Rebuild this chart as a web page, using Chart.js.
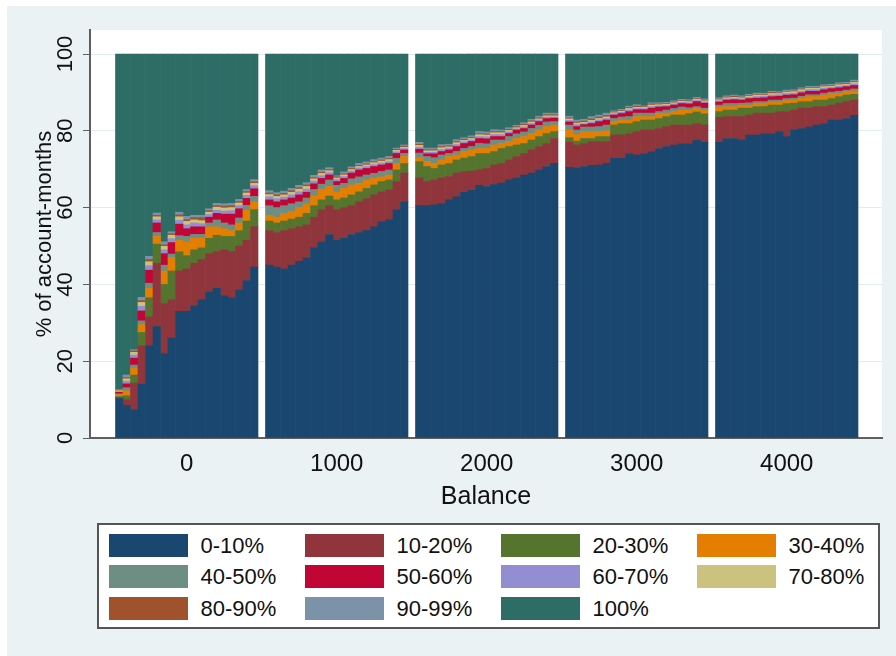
<!DOCTYPE html>
<html>
<head>
<meta charset="utf-8">
<script src="https://cdn.jsdelivr.net/npm/chart.js@4.4.0/dist/chart.umd.min.js"></script>
<style>
  html, body { margin: 0; padding: 0; background: #fff; }
  body { width: 896px; height: 656px; position: relative; overflow: hidden; font-family: "Liberation Sans", Arial, sans-serif; }
  #region { position: absolute; left: 7px; top: 6px; right: 0; bottom: 0; background: #eaf2f3; }
  #wrap { position: absolute; left: 0; top: 0; width: 896px; height: 656px; }
  #legend { position: absolute; left: 97px; top: 523px; width: 783px; height: 106px; box-sizing: border-box; border: 2px solid #555; background: #fff; }
  .item { position: absolute; height: 23px; }
  .swatch { position: absolute; left: 0; top: 0; width: 79px; height: 23px; }
  .label { position: absolute; left: 92px; top: 0; line-height: 23px; font-size: 22px; color: #111; white-space: nowrap; }
</style>
</head>
<body>
<div id="region"></div>
<div id="wrap"><canvas id="chart" width="896" height="656"></canvas></div>
<div id="legend"></div>
<script>
// Balance bins (bin centres, width 50); no bins at 500, 1500, 2500, 3500
const balance = [
  -450, -400, -350, -300, -250, -200, -150, -100, -50, 0, 50, 100, 150, 200, 250, 300, 350, 400, 450,
  550, 600, 650, 700, 750, 800, 850, 900, 950, 1000, 1050, 1100, 1150, 1200, 1250, 1300, 1350, 1400, 1450,
  1550, 1600, 1650, 1700, 1750, 1800, 1850, 1900, 1950, 2000, 2050, 2100, 2150, 2200, 2250, 2300, 2350, 2400, 2450,
  2550, 2600, 2650, 2700, 2750, 2800, 2850, 2900, 2950, 3000, 3050, 3100, 3150, 3200, 3250, 3300, 3350, 3400, 3450,
  3550, 3600, 3650, 3700, 3750, 3800, 3850, 3900, 3950, 4000, 4050, 4100, 4150, 4200, 4250, 4300, 4350, 4400, 4450
];

// % of account-months per bin, one array per share band
const share0to10 = [
  10.3, 8.5, 7.3, 14, 24, 29, 22, 26, 33, 33, 34.5, 36, 38, 39, 37, 36.5, 38.5, 41, 44.5,
  45, 44.5, 44, 45, 46, 47, 49.5, 51, 53, 51.5, 52, 53, 53.5, 54, 55, 56.3, 56.8, 59.4, 61.5,
  60.5, 60.5, 60.7, 61, 62, 62.8, 64, 64.5, 65.8, 65.5, 66, 66.4, 67.2, 67.7, 68.5, 69, 69.8, 70.7, 71.5,
  70.5, 70.3, 70.7, 71, 71.1, 71.5, 72.8, 72.8, 74, 73.7, 74.1, 74.6, 75.4, 75.9, 76.3, 76.7, 76.7, 77.5, 77,
  77, 78, 78, 77.6, 78.9, 78.9, 79.3, 79.3, 79.8, 78.5, 80.2, 80.6, 81, 81.5, 81.9, 82.8, 82.8, 83.2, 84
];
const share10to20 = [
  0.2, 1.5, 7, 10, 7.5, 16.5, 13, 10, 10.5, 11, 11, 10.5, 10, 9.5, 12, 12, 11.5, 10.5, 10.5,
  9, 9, 10, 9.5, 9, 8.5, 8, 8.5, 7.5, 8, 8, 7.5, 8, 8.3, 8.3, 7.8, 7.8, 7.4, 7.5,
  7.2, 6.3, 6.5, 6.7, 6.1, 6.2, 5.4, 5, 4, 4.7, 5.1, 5.1, 5.2, 5.6, 5.6, 6, 6.1, 6, 6.5,
  6.5, 6, 6, 6.2, 6.1, 5.7, 6.1, 6.1, 5.3, 6.1, 6.1, 5.6, 5.2, 5.2, 5.2, 4.8, 4.8, 4.4, 4.5,
  6.5, 5.7, 5.7, 6.1, 5.2, 5.7, 5.3, 5.3, 5.2, 6.5, 5.2, 5.3, 4.9, 4.8, 4.4, 3.9, 4.4, 4.4, 4
];
const share20to30 = [
  0.3, 1, 2.1, 3.5, 5, 5, 5, 7.5, 5, 3.5, 3.5, 3, 4, 4.3, 3.5, 4, 4, 5, 4.5,
  2.5, 2.5, 2.5, 2.5, 2.5, 3, 3, 2.5, 2.5, 2.5, 2.5, 2.8, 2.6, 2.7, 2.6, 2.7, 2.6, 3, 2.5,
  4.3, 3.9, 3, 3.4, 3.4, 3.4, 3.5, 3.8, 4.3, 3.9, 3.5, 3.9, 3.5, 3, 2.6, 2.6, 2.6, 2.6, 1.8,
  1.2, 1, 1.3, 0.8, 1.3, 1.3, 2.6, 3, 2.6, 2.6, 2.6, 2.6, 2.6, 2.6, 2.6, 2.6, 3, 3, 2.9,
  1.5, 1.7, 1.7, 2.2, 1.8, 1.7, 1.7, 2.1, 1.7, 2.1, 1.8, 1.7, 1.7, 1.7, 1.7, 1.7, 1.7, 1.7, 1.5
];
const share30to40 = [
  0.5, 1.3, 1.8, 2, 2.5, 2, 3.5, 3.5, 3, 3.5, 3, 2.5, 3, 2.2, 2, 1.5, 2, 2.8, 2,
  1.5, 1.5, 2, 2, 2.5, 2.5, 2.5, 2.8, 2.5, 2, 2.5, 2.6, 2.2, 2.2, 1.7, 1.2, 1.3, 1.7, 1.8,
  1, 1.3, 1.3, 1.3, 1.8, 1.3, 1.7, 1.7, 1.3, 1.3, 1.7, 1.3, 1.3, 1.7, 1.8, 1.7, 1.7, 1.8, 1.7,
  2, 1.7, 1.8, 1.8, 1.3, 1.5, 0.9, 0.9, 0.9, 1.3, 0.9, 0.9, 1.3, 0.9, 0.9, 1.3, 0.9, 0.9, 0.9,
  1.2, 0.9, 0.9, 0.8, 0.8, 0.9, 0.9, 0.8, 0.8, 0.8, 0.8, 0.9, 1.3, 0.9, 1.3, 1.3, 0.9, 0.9, 0.9
];
const share40to50 = [
  0.2, 0.8, 0.8, 1, 1.3, 1, 1.5, 0.9, 1.2, 1.5, 1, 1, 1, 1.8, 1.5, 1.5, 1.3, 1.3, 1.4,
  2.5, 2.5, 2, 2, 1.5, 1.5, 1.7, 1.3, 1.7, 1.8, 1.3, 1.6, 1.7, 1.3, 1.3, 1.4, 1.3, 1.3, 0.8,
  1.2, 1.3, 1.5, 1.3, 0.8, 0.9, 0.8, 0.9, 1.3, 1.2, 1.3, 0.9, 1.3, 1.2, 1.2, 1.3, 1.2, 1.2, 0.9,
  1.3, 1.2, 1.2, 1.2, 1.3, 1.5, 0.8, 0.8, 0.9, 0.9, 0.9, 0.9, 0.5, 0.8, 0.8, 0.8, 0.6, 0.5, 0.6,
  0.5, 0.8, 0.8, 0.5, 0.6, 0.4, 0.4, 0.5, 0.5, 0.5, 0.5, 0.5, 0.5, 0.5, 0.5, 0.4, 0.5, 0.4, 0.5
];
const share50to60 = [
  0.4, 1, 1.8, 2.6, 3.4, 2.5, 3, 3, 3, 2, 2, 2, 1.5, 1.7, 2.3, 2.8, 2.4, 1.8, 2,
  1.5, 1.5, 1.5, 1.5, 1.8, 1.5, 1.5, 1.5, 1.3, 1, 1.3, 1.5, 1.8, 1.7, 1.8, 1.7, 1.7, 1.3, 0.9,
  1, 0.7, 1, 0.9, 0.9, 1.3, 1.3, 1.3, 1.3, 1.3, 0.9, 0.9, 0.8, 1, 0.9, 0.9, 1, 0.9, 0.9,
  0.8, 0.9, 0.6, 0.9, 1.3, 1.3, 0.9, 0.9, 1.3, 0.9, 0.9, 1.3, 1.2, 0.9, 0.9, 0.9, 1, 1.3, 1.3,
  0.8, 0.9, 1, 0.8, 1.1, 0.9, 1, 0.9, 1, 0.9, 0.9, 0.9, 0.9, 0.9, 0.9, 0.9, 0.9, 0.9, 0.9
];
const share60to70 = [
  0.2, 0.7, 0.8, 1.2, 1.2, 0.8, 1, 1, 1, 1, 1, 0.8, 0.7, 0.8, 0.8, 0.9, 0.8, 0.8, 0.8,
  0.8, 0.8, 0.7, 0.8, 0.8, 0.8, 0.7, 0.7, 0.6, 0.5, 0.5, 0.5, 0.5, 0.5, 0.5, 0.5, 0.5, 0.4, 0.4,
  0.5, 0.4, 0.4, 0.5, 0.4, 0.5, 0.4, 0.4, 0.5, 0.5, 0.5, 0.5, 0.4, 0.3, 0.4, 0.4, 0.4, 0.4, 0.3,
  0.4, 0.5, 0.3, 0.4, 0.4, 0.4, 0.3, 0.3, 0.4, 0.3, 0.3, 0.4, 0.3, 0.3, 0.3, 0.3, 0.3, 0.3, 0.3,
  0.3, 0.3, 0.3, 0.3, 0.3, 0.4, 0.4, 0.4, 0.4, 0.4, 0.4, 0.4, 0.4, 0.4, 0.4, 0.3, 0.4, 0.3, 0.4
];
const share70to80 = [
  0.2, 0.6, 0.7, 1, 1, 0.8, 0.9, 0.9, 0.9, 0.9, 0.8, 0.8, 0.6, 0.8, 0.8, 0.8, 0.7, 0.6, 0.6,
  0.6, 0.6, 0.6, 0.7, 0.7, 0.7, 0.6, 0.6, 0.5, 0.4, 0.4, 0.4, 0.4, 0.4, 0.5, 0.5, 0.5, 0.4, 0.3,
  0.5, 0.4, 0.4, 0.5, 0.4, 0.5, 0.4, 0.4, 0.5, 0.5, 0.5, 0.5, 0.4, 0.3, 0.4, 0.4, 0.3, 0.3, 0.3,
  0.4, 0.4, 0.3, 0.4, 0.4, 0.4, 0.3, 0.3, 0.4, 0.3, 0.3, 0.4, 0.3, 0.3, 0.3, 0.3, 0.3, 0.3, 0.3,
  0.3, 0.3, 0.3, 0.3, 0.3, 0.4, 0.3, 0.4, 0.3, 0.4, 0.4, 0.4, 0.4, 0.4, 0.4, 0.3, 0.4, 0.3, 0.4
];
const share80to90 = [
  0.1, 0.3, 0.4, 0.5, 0.6, 0.4, 0.4, 0.4, 0.5, 0.5, 0.6, 0.8, 0.4, 0.4, 0.5, 0.5, 0.4, 0.4, 0.4,
  0.4, 0.4, 0.4, 0.4, 0.4, 0.4, 0.3, 0.3, 0.3, 0.3, 0.3, 0.3, 0.3, 0.3, 0.3, 0.3, 0.3, 0.3, 0.3,
  0.3, 0.3, 0.3, 0.3, 0.3, 0.3, 0.3, 0.3, 0.3, 0.3, 0.3, 0.3, 0.3, 0.3, 0.3, 0.3, 0.3, 0.3, 0.3,
  0.3, 0.3, 0.3, 0.4, 0.4, 0.4, 0.2, 0.2, 0.3, 0.3, 0.2, 0.3, 0.2, 0.2, 0.2, 0.2, 0.2, 0.2, 0.2,
  0.2, 0.2, 0.3, 0.2, 0.2, 0.2, 0.2, 0.3, 0.2, 0.2, 0.2, 0.2, 0.2, 0.2, 0.2, 0.2, 0.2, 0.2, 0.2
];
const share90to99 = [
  0.2, 0.7, 0.3, 0.8, 0.8, 0.6, 0.8, 0.5, 0.7, 0.8, 0.6, 0.6, 0.5, 0.6, 0.6, 0.6, 0.5, 0.5, 0.6,
  0.6, 0.6, 0.6, 0.6, 0.6, 0.6, 0.6, 0.6, 0.5, 0.3, 0.5, 0.4, 0.5, 0.5, 0.5, 0.5, 0.5, 0.3, 0.3,
  0.5, 0.4, 0.4, 0.5, 0.4, 0.5, 0.4, 0.4, 0.5, 0.5, 0.5, 0.4, 0.4, 0.3, 0.4, 0.4, 0.4, 0.4, 0.4,
  0.4, 0.5, 0.5, 0.6, 0.5, 0.6, 0.3, 0.3, 0.3, 0.4, 0.2, 0.3, 0.3, 0.3, 0.3, 0.3, 0.3, 0.3, 0.3,
  0.3, 0.3, 0.3, 0.3, 0.3, 0.3, 0.3, 0.3, 0.3, 0.3, 0.3, 0.3, 0.3, 0.3, 0.3, 0.3, 0.3, 0.3, 0.4
];
const share100 = [
  87.4, 83.6, 77, 63.4, 52.7, 41.4, 48.9, 46.3, 41.2, 42.3, 42, 42, 40.3, 38.9, 39, 38.9, 37.9, 35.3, 32.7,
  35.6, 36.1, 35.7, 35, 34.2, 33.5, 31.6, 30.2, 29.6, 31.7, 30.7, 29.4, 28.5, 28.1, 27.5, 27.1, 26.7, 24.5, 23.7,
  23, 24.5, 24.5, 23.6, 23.5, 22.3, 21.8, 21.3, 20.2, 20.3, 19.7, 19.8, 19.2, 18.6, 17.9, 17, 16.2, 15.4, 15.4,
  16.2, 17.2, 17, 16.3, 15.9, 15.4, 14.8, 14.4, 13.6, 13.2, 13.5, 12.7, 12.7, 12.6, 12.2, 11.8, 11.9, 11.3, 11.7,
  11.4, 10.9, 10.7, 10.9, 10.5, 10.2, 10.2, 9.7, 9.8, 9.4, 9.3, 8.8, 8.4, 8.4, 8, 7.9, 7.5, 7.4, 6.8
];

const seriesLabels = ["0-10%", "10-20%", "20-30%", "30-40%", "40-50%", "50-60%",
  "60-70%", "70-80%", "80-90%", "90-99%", "100%"];
const seriesValues = [share0to10, share10to20, share20to30, share30to40, share40to50, share50to60,
  share60to70, share70to80, share80to90, share90to99, share100];
const seriesColors = ["#1a476f", "#90353b", "#55752f", "#e37e00", "#6e8e84", "#c10534",
  "#938dd2", "#cac27e", "#a0522d", "#7b92a8", "#2d6d66"];

const xTicks = [0, 1000, 2000, 3000, 4000];
const yTicks = [0, 20, 40, 60, 80, 100];

const FONT = '"Liberation Sans", Arial, sans-serif';
Chart.defaults.font.family = FONT;

// White plot region behind the bars
const plotBackground = {
  id: "plotBackground",
  beforeDraw(chart) {
    const { ctx, chartArea } = chart;
    ctx.save();
    ctx.fillStyle = "#ffffff";
    ctx.fillRect(chartArea.left, chartArea.top, chartArea.right - chartArea.left, chartArea.bottom - chartArea.top);
    ctx.restore();
  }
};

// Stata-style vertical y tick labels
const verticalYLabels = {
  id: "verticalYLabels",
  afterDraw(chart) {
    const { ctx } = chart;
    const scale = chart.scales.y;
    ctx.save();
    ctx.fillStyle = "#111";
    ctx.font = "22px " + FONT;
    ctx.textAlign = "center";
    ctx.textBaseline = "middle";
    scale.ticks.forEach(t => {
      const y = scale.getPixelForValue(t.value);
      ctx.save();
      ctx.translate(66, y);
      ctx.rotate(-Math.PI / 2);
      ctx.fillText(String(t.value), 0, 0);
      ctx.restore();
    });
    ctx.restore();
  }
};

const datasets = seriesLabels.map((label, k) => ({
  label: label,
  data: balance.map((b, i) => ({ x: b, y: seriesValues[k][i] })),
  backgroundColor: seriesColors[k],
  borderWidth: 0,
  barPercentage: 1,
  categoryPercentage: 1
}));

new Chart(document.getElementById("chart").getContext("2d"), {
  type: "bar",
  data: { datasets: datasets },
  options: {
    responsive: false,
    animation: false,
    layout: { padding: { left: 0, top: 30, right: 14, bottom: 141 } },
    plugins: {
      legend: { display: false },
      tooltip: { enabled: false }
    },
    scales: {
      x: {
        type: "linear",
        stacked: true,
        offset: false,
        min: -645,
        max: 4635,
        grid: { display: false, drawTicks: false, offset: false },
        border: { display: true, color: "#5f5f5f", width: 2 },
        ticks: {
          color: "#111",
          font: { size: 24 },
          padding: 12,
          maxRotation: 0,
          autoSkip: false,
          callback: v => String(v)
        },
        afterBuildTicks: s => { s.ticks = xTicks.map(v => ({ value: v })); },
        afterFit: s => { s.height = 77; },
        title: {
          display: true,
          text: "Balance",
          color: "#111",
          font: { size: 25 },
          padding: { top: 0, bottom: 3 }
        }
      },
      y: {
        stacked: true,
        min: 0,
        max: 106.25,
        grid: { color: "#e3ecef", lineWidth: 1, tickColor: "#5f5f5f", tickLength: 7, drawTicks: true },
        border: { color: "#5f5f5f", width: 2 },
        ticks: { display: false },
        afterBuildTicks: s => { s.ticks = yTicks.map(v => ({ value: v })); },
        afterFit: s => { s.width = 90; },
        title: {
          display: true,
          text: "% of account-months",
          color: "#111",
          font: { size: 22 },
          padding: { top: 32, bottom: 0 }
        }
      }
    }
  },
  plugins: [plotBackground, verticalYLabels]
});

// Legend box: 4 columns, 3 rows
const legendEl = document.getElementById("legend");
seriesLabels.forEach((label, k) => {
  const col = k % 4, row = Math.floor(k / 4);
  const item = document.createElement("div");
  item.className = "item";
  item.style.left = (9.5 + col * 196) + "px";
  item.style.top = (8.5 + row * 31.5) + "px";
  item.innerHTML = '<div class="swatch" style="background:' + seriesColors[k] + '"></div>' +
    '<div class="label">' + label + '</div>';
  legendEl.appendChild(item);
});
</script>
</body>
</html>
